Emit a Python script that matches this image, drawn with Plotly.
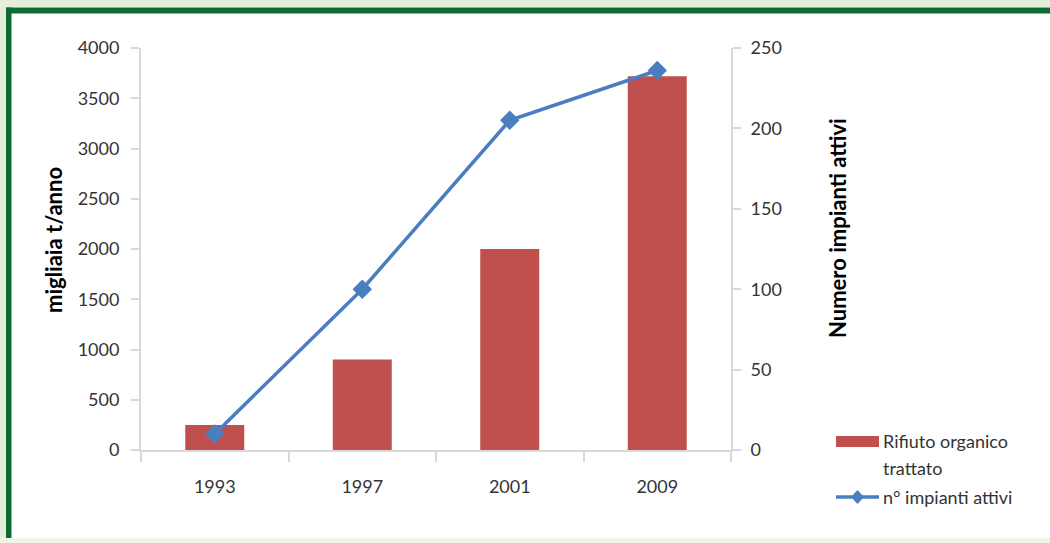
import plotly.graph_objects as go

# Data
anni = ["1993", "1997", "2001", "2009"]
rifiuto_trattato = [250, 900, 2000, 3720]      # migliaia t/anno
impianti_attivi = [10, 100, 205, 236]          # numero impianti

W, H = 1050, 543
L, R, T, B = 141, 319, 48, 93
PW, PH = W - L - R, H - T - B

def px(x):
    return (x - L) / PW

def py(y):
    return (H - B - y) / PH

BAR_COLOR = "#C0504D"
LINE_COLOR = "#4A7EBF"
AXIS_COLOR = "#D9D9D9"
TEXT_COLOR = "#333333"
FONT = "Lato"

fig = go.Figure()
fig.add_trace(go.Bar(
    x=anni, y=rifiuto_trattato, name="Rifiuto organico trattato",
    marker=dict(color=BAR_COLOR, line=dict(width=0)), yaxis="y",
))
fig.add_trace(go.Scatter(
    x=anni, y=impianti_attivi, name="n° impianti attivi", mode="lines+markers",
    line=dict(color=LINE_COLOR, width=3.5),
    marker=dict(symbol="diamond", size=15, color=LINE_COLOR), yaxis="y2",
))

shapes = []
# page frame
shapes.append(dict(type="rect", xref="paper", yref="paper", x0=px(0), x1=px(W), y0=py(7), y1=py(0),
                   fillcolor="#E3EEDB", line=dict(width=0), layer="below"))
shapes.append(dict(type="rect", xref="paper", yref="paper", x0=px(0), x1=px(6), y0=py(H), y1=py(0),
                   fillcolor="#E3EEDB", line=dict(width=0), layer="below"))
shapes.append(dict(type="rect", xref="paper", yref="paper", x0=px(0), x1=px(W), y0=py(H), y1=py(538),
                   fillcolor="#EEF5E6", line=dict(width=0), layer="below"))
shapes.append(dict(type="rect", xref="paper", yref="paper", x0=px(6), x1=px(W), y0=py(13.5), y1=py(7.5),
                   fillcolor="#0E6B30", line=dict(width=0), layer="below"))
shapes.append(dict(type="rect", xref="paper", yref="paper", x0=px(6), x1=px(11.5), y0=py(538), y1=py(7.5),
                   fillcolor="#0E6B30", line=dict(width=0), layer="below"))

# legend
shapes.append(dict(type="rect", xref="paper", yref="paper", x0=px(836), x1=px(879), y0=py(447), y1=py(436),
                   fillcolor=BAR_COLOR, line=dict(width=0)))
shapes.append(dict(type="line", xref="paper", yref="paper", x0=px(836), x1=px(879), y0=py(497), y1=py(497),
                   line=dict(color=LINE_COLOR, width=3.5)))
shapes.append(dict(type="path", xref="paper", yref="paper",
                   path=f"M{px(857.5)},{py(490)} L{px(864)},{py(497)} L{px(857.5)},{py(504)} L{px(851)},{py(497)} Z",
                   fillcolor=LINE_COLOR, line=dict(width=0)))

LEG_FONT = dict(size=18, color=TEXT_COLOR, family=FONT)
TITLE_FONT = dict(size=22, color="black", family=FONT)
annotations = [
    dict(text="Rifiuto organico", x=px(881), y=py(441), xref="paper", yref="paper",
         xanchor="left", yanchor="middle", showarrow=False, font=LEG_FONT),
    dict(text="trattato", x=px(881), y=py(468), xref="paper", yref="paper",
         xanchor="left", yanchor="middle", showarrow=False, font=LEG_FONT),
    dict(text="n° impianti attivi", x=px(881), y=py(497), xref="paper", yref="paper",
         xanchor="left", yanchor="middle", showarrow=False, font=LEG_FONT),
    # axis titles
    dict(text="<b>migliaia t/anno</b>", x=px(53), y=py(240), xref="paper", yref="paper",
         xanchor="center", yanchor="middle", textangle=-90, showarrow=False, font=TITLE_FONT),
    dict(text="<b>Numero impianti attivi</b>", x=px(838), y=py(228), xref="paper", yref="paper",
         xanchor="center", yanchor="middle", textangle=-90, showarrow=False, font=TITLE_FONT),
]

fig.update_layout(
    width=W, height=H,
    margin=dict(l=L, r=R, t=T, b=B, pad=0),
    paper_bgcolor="white", plot_bgcolor="white",
    showlegend=False, bargap=0.6,
    font=dict(family=FONT, color=TEXT_COLOR, size=18),
    xaxis=dict(showline=True, linecolor=AXIS_COLOR, linewidth=2, ticks="outside",
               tickson="boundaries", ticklen=10, tickcolor=AXIS_COLOR, tickwidth=2,
               showgrid=False, tickfont=dict(size=18, color=TEXT_COLOR), ticklabelstandoff=19),
    yaxis=dict(range=[0, 4000], dtick=500, showline=True, linecolor=AXIS_COLOR, linewidth=2,
               ticks="outside", ticklen=8, tickcolor=AXIS_COLOR, tickwidth=2, showgrid=False,
               zeroline=False, tickfont=dict(size=18, color=TEXT_COLOR), ticklabelstandoff=8),
    yaxis2=dict(range=[0, 250], dtick=50, overlaying="y", side="right", showline=True,
                linecolor=AXIS_COLOR, linewidth=2, ticks="outside", ticklen=8, tickcolor=AXIS_COLOR,
                tickwidth=2, showgrid=False, zeroline=False, tickfont=dict(size=18, color=TEXT_COLOR),
                ticklabelstandoff=6),
    shapes=shapes, annotations=annotations,
)

fig.write_html("out.html")
